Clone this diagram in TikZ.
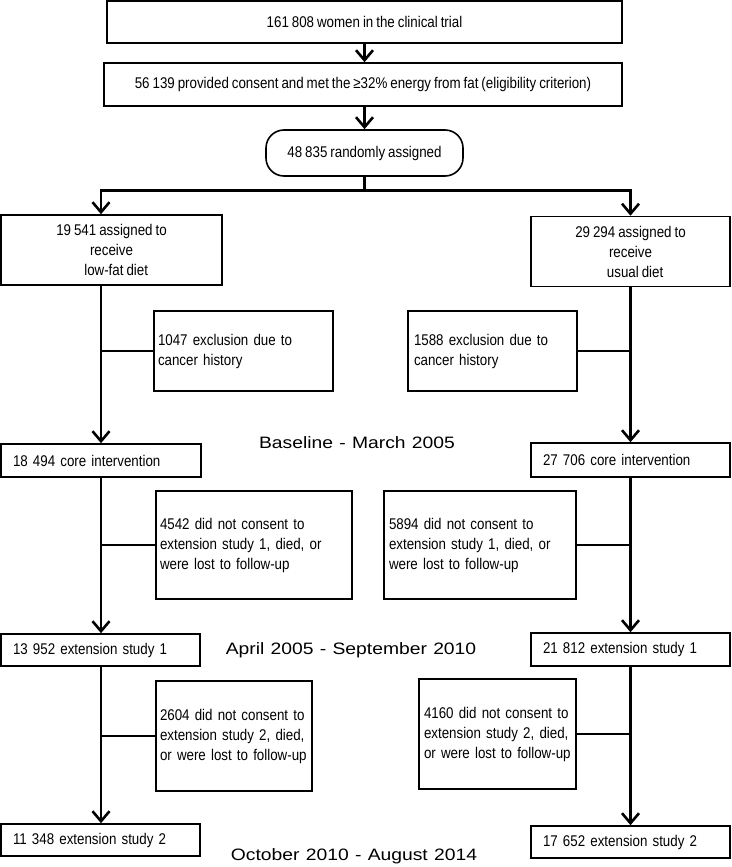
\documentclass[tikz,border=0pt]{standalone}
\usepackage{fontspec}
\newfontfamily\boxf[FakeStretch=0.86,WordSpace=0.8]{Liberation Sans}
\newfontfamily\bigf[FakeStretch=1.17,WordSpace=1.17]{Liberation Sans}
\usetikzlibrary{arrows.meta}
\begin{document}
\begin{tikzpicture}[x=1pt,y=-1pt,
  box/.style={draw=black, line width=1.6pt, inner sep=0pt, anchor=center,
    font=\boxf\fontsize{15.5}{20}\selectfont, text=black},
  ebox/.style={box, align=left, inner xsep=5pt},
  lbl/.style={inner sep=0pt, font=\bigf\fontsize{16.5}{20}\selectfont, text=black},
  conn/.style={draw=black, line width=2.6pt},
  arr/.style={conn, -{Straight Barb[length=10pt,width=17pt]}}]
\useasboundingbox (0,0) rectangle (731,867);
\coordinate (Lx) at (101,0);
\coordinate (Rx) at (630.5,0);
% top part
\node[box, minimum width=515pt, minimum height=42pt] (top) at (364.5,22) {161 808 women in the clinical trial};
\node[box, minimum width=518pt, minimum height=43pt] (elig) at (363,84.5) {56 139 provided consent and met the ≥32\% energy from fat (eligibility criterion)};
\node[box, rounded corners=18pt, minimum width=197pt, minimum height=46pt] (rand) at (364.5,153) {48 835 randomly assigned};
\draw[arr] (top.south) -- (top.south |- elig.north);
\draw[arr] (rand.north |- elig.south) -- (rand.north);
\coordinate (split) at (364.5,190.6);
% group boxes
\node[box, align=center, minimum width=221pt, minimum height=70pt] (lowfat) at (111.5,250) {19 541 assigned to\\receive\\\hspace*{0.6em}low-fat diet};
\node[box, align=center, minimum width=199pt, minimum height=70pt] (usual) at (630.5,251.5) {29 294 assigned to\\receive\\\hspace*{0.6em}usual diet};
\draw[conn] (rand.south) -- (split);
\draw[arr] (split) -| (lowfat.north -| Lx);
\draw[arr] (split) -| (usual.north);
% exclusion for cancer history
\node[ebox, inner xsep=4pt, minimum width=179pt, minimum height=80pt, text width=171pt] (exA) at (243.5,351) {1047 exclusion due to\\cancer history};
\node[ebox, inner xsep=6pt, minimum width=169pt, minimum height=80pt, text width=157pt] (exB) at (492.5,351) {1588 exclusion due to\\cancer history};
% core intervention
\node[ebox, inner xsep=12pt, minimum width=200pt, minimum height=33pt, text width=176pt] (coreA) at (101,460.5) {18 494 core intervention};
\node[ebox, inner xsep=12pt, minimum width=199pt, minimum height=34pt, text width=175pt] (coreB) at (630.5,460) {27 706 core intervention};
\node[lbl] (base) at (357,443) {Baseline - March 2005};
\draw[arr] (lowfat.south -| Lx) -- (coreA.north);
\draw[arr] (usual.south -| Rx) -- (coreB.north -| Rx);
\draw[conn] (exA.west) -- (exA.west -| Lx);
\draw[conn] (exB.east) -- (exB.east -| Rx);
% extension study 1
\node[ebox, inner xsep=4pt, minimum width=196pt, minimum height=108pt, text width=188pt] (x1A) at (254,545) {4542 did not consent to\\extension study 1, died, or\\were lost to follow-up};
\node[ebox, inner xsep=5pt, minimum width=192pt, minimum height=108pt, text width=182pt] (x1B) at (480,545) {5894 did not consent to\\extension study 1, died, or\\were lost to follow-up};
\node[ebox, inner xsep=12pt, minimum width=199pt, minimum height=32pt, text width=175pt] (e1A) at (100.5,650) {13 952 extension study 1};
\node[ebox, inner xsep=12pt, minimum width=199pt, minimum height=33pt, text width=175pt] (e1B) at (630.5,649.5) {21 812 extension study 1};
\node[lbl] (apr) at (351,650) {April 2005 - September 2010};
\draw[arr] (coreA.south) -- (coreA.south |- e1A.north);
\draw[arr] (coreB.south -| Rx) -- (e1B.north -| Rx);
\draw[conn] (x1A.west) -- (x1A.west -| Lx);
\draw[conn] (x1B.east) -- (x1B.east -| Rx);
% extension study 2
\node[ebox, inner xsep=4pt, minimum width=156pt, minimum height=110pt, text width=148pt] (x2A) at (234,736) {\mbox{2604 did not consent to}\\\mbox{extension study 2, died,}\\\mbox{or were lost to follow-up}};
\node[ebox, inner xsep=5pt, minimum width=157pt, minimum height=110pt, text width=147pt] (x2B) at (497.5,734) {\mbox{4160 did not consent to}\\\mbox{extension study 2, died,}\\\mbox{or were lost to follow-up}};
\node[ebox, inner xsep=12pt, minimum width=199pt, minimum height=32pt, text width=175pt] (e2A) at (100.5,840) {11 348 extension study 2};
\node[ebox, inner xsep=12pt, minimum width=199pt, minimum height=32pt, text width=175pt] (e2B) at (630.5,842) {17 652 extension study 2};
\node[lbl] (oct) at (354,856) {October 2010 - August 2014};
\draw[arr] (e1A.south -| Lx) -- (e2A.north -| Lx);
\draw[arr] (e1B.south -| Rx) -- (e2B.north -| Rx);
\draw[conn] (x2A.west) -- (x2A.west -| Lx);
\draw[conn] (x2B.east) -- (x2B.east -| Rx);
\end{tikzpicture}
\end{document}
